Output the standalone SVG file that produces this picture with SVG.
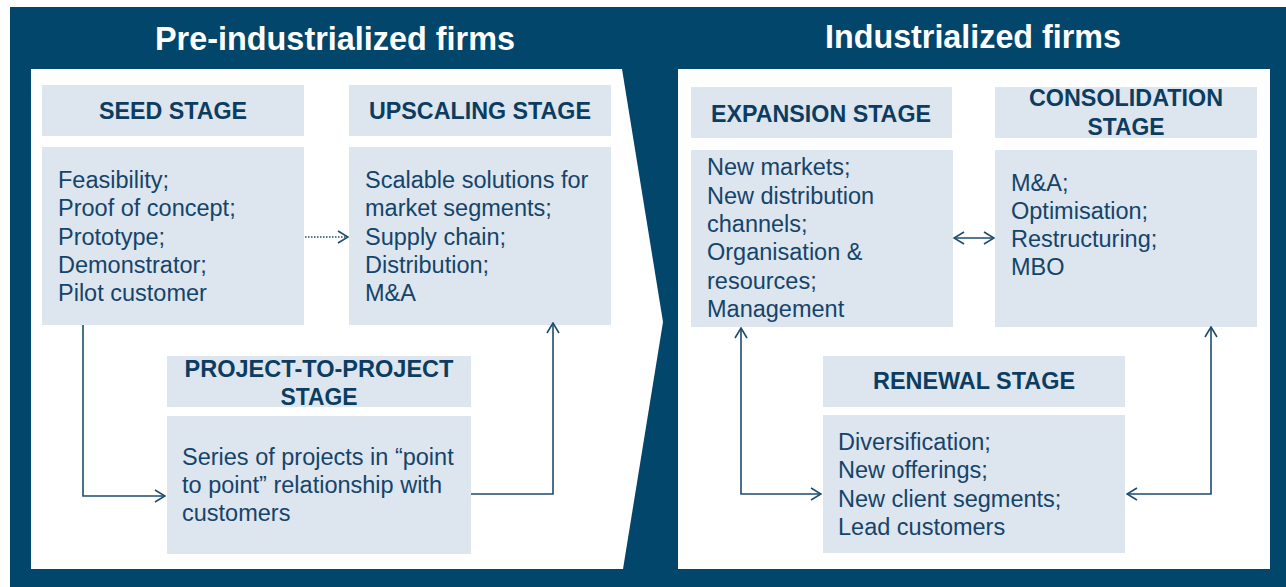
<svg xmlns="http://www.w3.org/2000/svg" width="1286" height="587" viewBox="0 0 1286 587">
<defs>
<style>
.bg{fill:#03466c}
.panel{fill:#ffffff}
.hdr{fill:#dde5ee}
.box{fill:#dde5ee}
.title{font-family:"Liberation Sans",Arial,sans-serif;font-weight:bold;font-size:33px;fill:#ffffff;text-anchor:middle}
.ht{font-family:"Liberation Sans",Arial,sans-serif;font-weight:bold;font-size:24.5px;fill:#0c3d60;text-anchor:middle}
.bt{font-family:"Liberation Sans",Arial,sans-serif;font-size:23.5px;fill:#15446a}
.conn{fill:none;stroke:#1d4c6e;stroke-width:1.6}
.dot{stroke-dasharray:1.5 1.5}
</style>
<marker id="arr" viewBox="0 0 12 14" refX="11" refY="7" markerWidth="12" markerHeight="14" markerUnits="userSpaceOnUse" orient="auto-start-reverse">
<path d="M1,1 L11,7 L1,13" fill="none" stroke="#1d4c6e" stroke-width="1.6"/>
</marker>
</defs>
<rect x="0" y="0" width="1286" height="587" fill="#ffffff"/>
<rect class="bg" x="10" y="7" width="1276" height="580"/>
<path class="panel" d="M31,69 L622,69 L663,322 L623,569 L31,569 Z"/>
<rect class="panel" x="678" y="69" width="592" height="500"/>
<text class="title" x="335" y="50" textLength="360" lengthAdjust="spacingAndGlyphs">Pre-industrialized firms</text>
<text class="title" x="973" y="48" textLength="296" lengthAdjust="spacingAndGlyphs">Industrialized firms</text>

<g id="seed">
<rect class="hdr" x="42" y="85" width="262" height="51"/>
<text class="ht" x="173" y="119" textLength="148" lengthAdjust="spacingAndGlyphs">SEED STAGE</text>
<rect class="box" x="42" y="147" width="262" height="178"/>
<text class="bt" x="58" y="188">Feasibility;</text>
<text class="bt" x="58" y="216">Proof of concept;</text>
<text class="bt" x="58" y="245">Prototype;</text>
<text class="bt" x="58" y="273">Demonstrator;</text>
<text class="bt" x="58" y="301">Pilot customer</text>
</g>

<g id="upscaling">
<rect class="hdr" x="349" y="85" width="262" height="51"/>
<text class="ht" x="480" y="119" textLength="222" lengthAdjust="spacingAndGlyphs">UPSCALING STAGE</text>
<rect class="box" x="349" y="147" width="262" height="178"/>
<text class="bt" x="365" y="188">Scalable solutions for</text>
<text class="bt" x="365" y="216">market segments;</text>
<text class="bt" x="365" y="245">Supply chain;</text>
<text class="bt" x="365" y="273">Distribution;</text>
<text class="bt" x="365" y="301">M&amp;A</text>
</g>

<g id="project">
<rect class="hdr" x="167" y="356" width="304" height="51"/>
<text class="ht" x="319" y="377" textLength="269" lengthAdjust="spacingAndGlyphs">PROJECT-TO-PROJECT</text>
<text class="ht" x="319" y="405" textLength="77" lengthAdjust="spacingAndGlyphs">STAGE</text>
<rect class="box" x="167" y="416" width="304" height="138"/>
<text class="bt" x="182" y="465">Series of projects in “point</text>
<text class="bt" x="182" y="493">to point” relationship with</text>
<text class="bt" x="182" y="521">customers</text>
</g>

<g id="expansion">
<rect class="hdr" x="691" y="87" width="261" height="51"/>
<text class="ht" x="821" y="122" textLength="220" lengthAdjust="spacingAndGlyphs">EXPANSION STAGE</text>
<rect class="box" x="691" y="150" width="262" height="177"/>
<text class="bt" x="707" y="175">New markets;</text>
<text class="bt" x="707" y="204">New distribution</text>
<text class="bt" x="707" y="232">channels;</text>
<text class="bt" x="707" y="260">Organisation &amp;</text>
<text class="bt" x="707" y="289">resources;</text>
<text class="bt" x="707" y="317">Management</text>
</g>

<g id="consolidation">
<rect class="hdr" x="995" y="87" width="262" height="51"/>
<text class="ht" x="1126" y="106" textLength="194" lengthAdjust="spacingAndGlyphs">CONSOLIDATION</text>
<text class="ht" x="1126" y="135" textLength="77" lengthAdjust="spacingAndGlyphs">STAGE</text>
<rect class="box" x="995" y="150" width="262" height="177"/>
<text class="bt" x="1011" y="191">M&amp;A;</text>
<text class="bt" x="1011" y="219">Optimisation;</text>
<text class="bt" x="1011" y="247">Restructuring;</text>
<text class="bt" x="1011" y="275">MBO</text>
</g>

<g id="renewal">
<rect class="hdr" x="823" y="356" width="302" height="51"/>
<text class="ht" x="974" y="389" textLength="202" lengthAdjust="spacingAndGlyphs">RENEWAL STAGE</text>
<rect class="box" x="823" y="415" width="302" height="138"/>
<text class="bt" x="838" y="450">Diversification;</text>
<text class="bt" x="838" y="478">New offerings;</text>
<text class="bt" x="838" y="507">New client segments;</text>
<text class="bt" x="838" y="535">Lead customers</text>
</g>

<g id="connectors">
<path class="conn dot" d="M305,237 L348,237" marker-end="url(#arr)"/>
<path class="conn" d="M83,325 L83,496 L165,496" marker-end="url(#arr)"/>
<path class="conn" d="M471,494 L553,494 L553,323" marker-end="url(#arr)"/>
<path class="conn" d="M954,238 L994,238" marker-start="url(#arr)" marker-end="url(#arr)"/>
<path class="conn" d="M741,328 L741,494 L821,494" marker-start="url(#arr)" marker-end="url(#arr)"/>
<path class="conn" d="M1127,494 L1211,494 L1211,327" marker-start="url(#arr)" marker-end="url(#arr)"/>
</g>
</svg>
